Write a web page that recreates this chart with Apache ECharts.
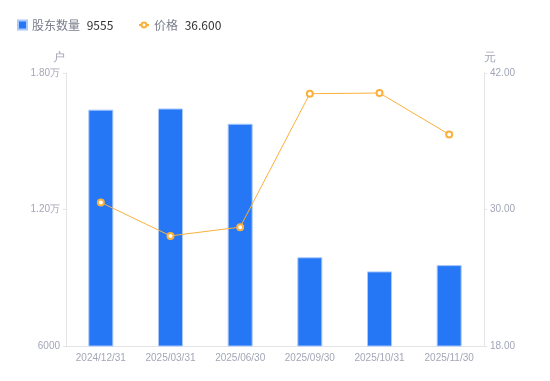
<!DOCTYPE html>
<html>
<head>
<meta charset="utf-8">
<script src="https://cdn.jsdelivr.net/npm/echarts@6/dist/echarts.min.js"></script>
<style>
html, body { margin: 0; padding: 0; background: #fff; }
#chart { width: 550px; height: 381px; }
</style>
</head>
<body>
<div id="chart"></div>
<script>
var categories = ['2024/12/31', '2025/03/31', '2025/06/30', '2025/09/30', '2025/10/31', '2025/11/30'];
var holders = [16390, 16440, 15770, 9900, 9280, 9555];
var prices = [30.62, 27.68, 28.45, 40.18, 40.24, 36.6];
var leftTicks = [6000, 12000, 18000];
var rightTicks = [18, 30, 42];

var myChart = echarts.init(document.getElementById('chart'));
var lastValues = {
    '股东数量': String(holders[holders.length - 1]),
    '价格': prices[prices.length - 1].toFixed(3)
};
var legendText = {
    formatter: function (name) {
        return '{n|' + name + '}  {v|' + lastValues[name] + '}';
    },
    textStyle: {
        rich: {
            n: {color: '#7a7d8c', fontSize: 12, fontFamily: 'Noto Sans CJK SC'},
            v: {color: '#333', fontSize: 12, fontFamily: 'Noto Sans CJK SC'}
        }
    }
};
var option = {
    animation: false,
    legend: [
        Object.assign({
            left: 12,
            top: 14,
            itemWidth: 9,
            itemHeight: 9,
            data: [{name: '股东数量', icon: 'rect'}]
        }, legendText),
        Object.assign({
            left: 133,
            top: 14,
            itemWidth: 10,
            itemHeight: 6,
            data: [{name: '价格'}]
        }, legendText)
    ],
    grid: {
        left: 66,
        right: 66,
        top: 73,
        bottom: 35
    },
    xAxis: {
        type: 'category',
        data: categories,
        axisLine: {lineStyle: {color: '#e3e3e8'}},
        axisTick: {show: false},
        axisLabel: {color: '#a3a6b6', fontSize: 10, margin: 7}
    },
    yAxis: [
        {
            type: 'value',
            name: '户',
            min: leftTicks[0],
            max: leftTicks[2],
            interval: leftTicks[1] - leftTicks[0],
            nameTextStyle: {color: '#a3a6b6', fontSize: 12, padding: [0, 14, 0, 0]},
            nameGap: 9,
            axisLine: {show: true, lineStyle: {color: '#e3e3e8'}},
            axisTick: {show: true, length: 3, lineStyle: {color: '#e3e3e8'}},
            splitLine: {show: false},
            axisLabel: {
                color: '#a3a6b6',
                fontSize: 10,
                margin: 6,
                formatter: function (v) {
                    return v >= 10000 ? (v / 10000).toFixed(2) + '万' : String(v);
                }
            }
        },
        {
            type: 'value',
            name: '元',
            min: rightTicks[0],
            max: rightTicks[2],
            interval: rightTicks[1] - rightTicks[0],
            nameTextStyle: {color: '#a3a6b6', fontSize: 12, padding: [0, 0, 0, 12]},
            nameGap: 9,
            axisLine: {show: true, lineStyle: {color: '#e3e3e8'}},
            axisTick: {show: true, length: 3, lineStyle: {color: '#e3e3e8'}},
            splitLine: {show: false},
            axisLabel: {
                color: '#a3a6b6',
                fontSize: 10,
                margin: 6,
                formatter: function (v) { return v.toFixed(2); }
            }
        }
    ],
    series: [
        {
            name: '股东数量',
            type: 'bar',
            barWidth: 25,
            data: holders,
            itemStyle: {color: '#2577f5', borderColor: '#a9c8fb', borderWidth: 1}
        },
        {
            name: '价格',
            type: 'line',
            yAxisIndex: 1,
            data: prices,
            symbol: 'emptyCircle',
            symbolSize: 6,
            itemStyle: {color: '#fbb03b', borderWidth: 1.5},
            lineStyle: {color: '#fbb03b', width: 1}
        }
    ]
};
myChart.setOption(option);
window.addEventListener('resize', function () {
    myChart.resize();
});
</script>
</body>
</html>
